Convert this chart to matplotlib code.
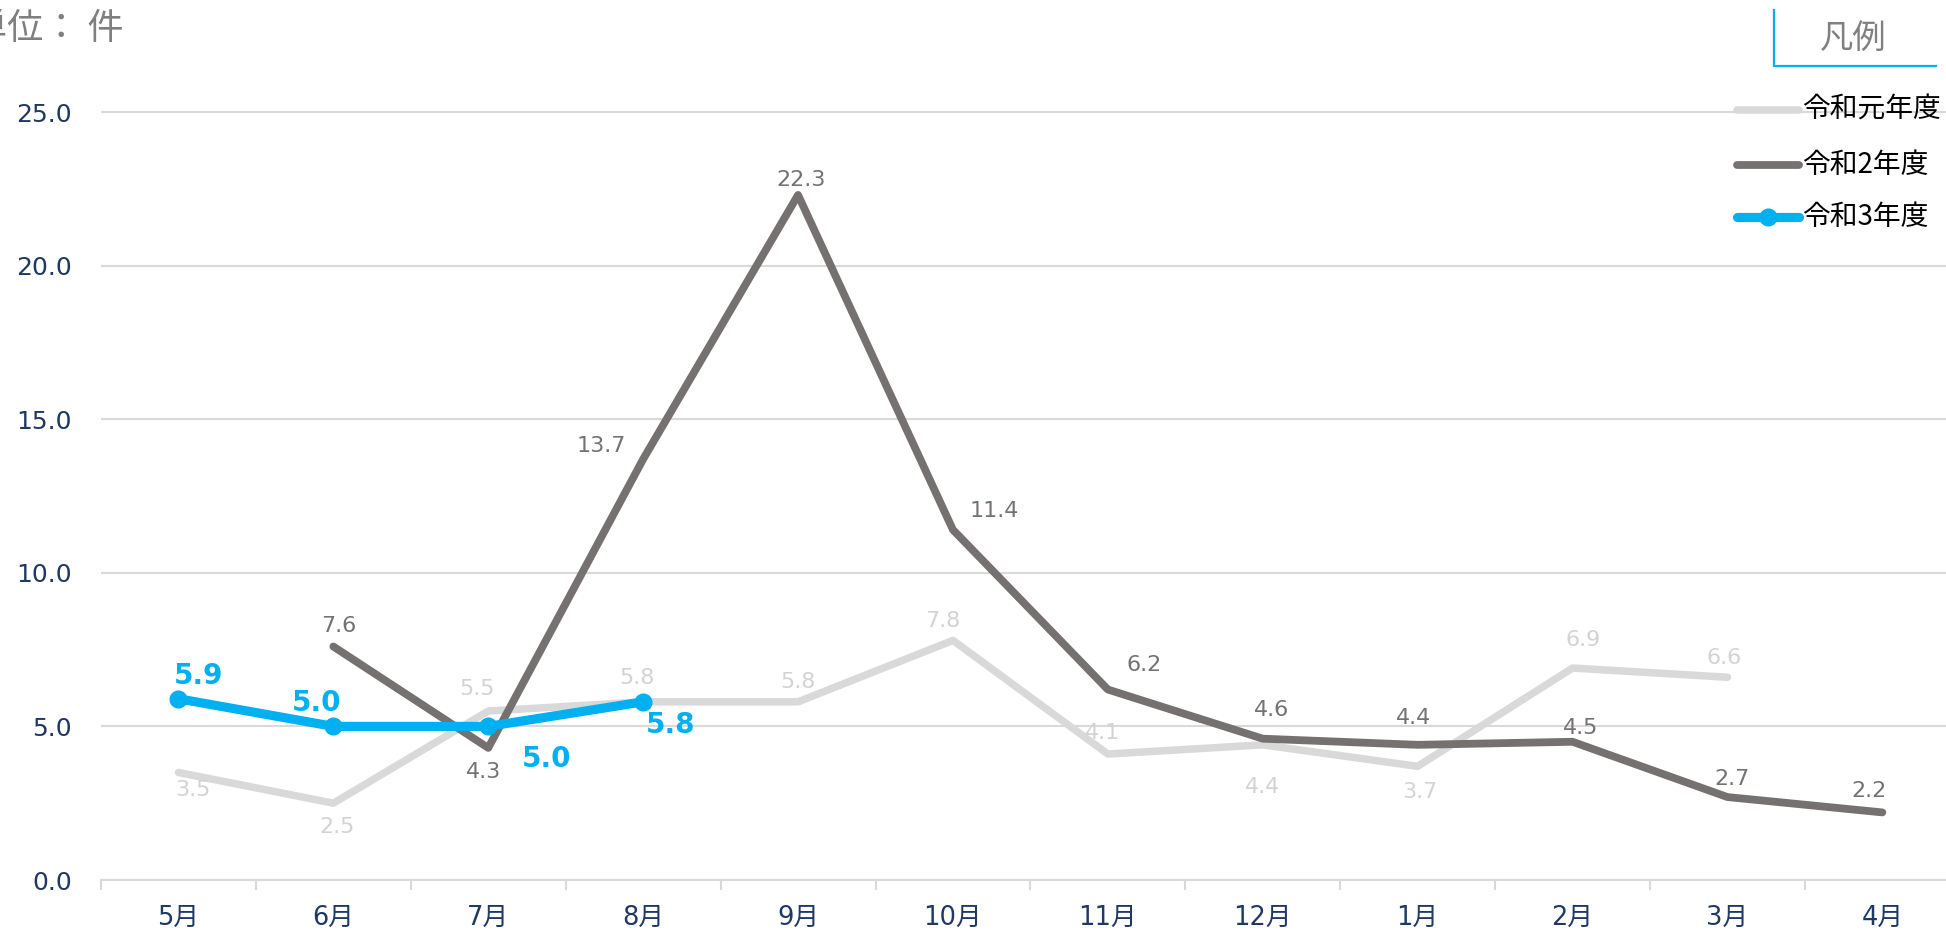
import matplotlib
matplotlib.use("Agg")
import matplotlib.pyplot as plt
from matplotlib.lines import Line2D
import numpy as np

# ---------------- data ----------------
months = ["5月", "6月", "7月", "8月", "9月", "10月", "11月", "12月", "1月", "2月", "3月", "4月"]
r1_values = [3.5, 2.5, 5.5, 5.8, 5.8, 7.8, 4.1, 4.4, 3.7, 6.9, 6.6, None]
r2_values = [None, 7.6, 4.3, 13.7, 22.3, 11.4, 6.2, 4.6, 4.4, 4.5, 2.7, 2.2]
r3_values = [5.9, 5.0, 5.0, 5.8]
series_names = ["令和元年度", "令和2年度", "令和3年度"]
y_ticks = [0, 5, 10, 15, 20, 25]
unit_label = "単位： 件"
legend_title = "凡例"

# ---------------- styling / layout ----------------
C_LIGHT = "#d9d9d9"
C_LIGHT_TXT = "#d3d3d3"
C_DARK = "#767171"
C_BLUE = "#00b0f0"
C_NAVY = "#1f3864"
C_GRID = "#d9d9d9"
CJK = "Noto Sans CJK JP"
NUMF = ["DejaVu Sans", CJK]
LW_LIGHT, LW_DARK, LW_BLUE = 5.4, 5.6, 6.6
MS_BLUE = 12

# label offsets in pixels (dx, dy)
r1_off = [(14, -18), (4, -24), (-11, 22), (-6, 24), (0, 20), (-10, 19), (-5, 21),
          (0, -42), (2, -26), (11, 28), (-3, 19), None]
r2_off = [None, (5, 21), (-5, -24), (-42, 13), (3, 15), (41, 19), (36, 25),
          (9, 29), (-4, 27), (8, 14), (5, 18), (-13, 21)]
r3_off = [(20, 23), (-17, 23), (58, -33), (27, -23)]

W, H = 1946, 936
fig = plt.figure(figsize=(W / 100, H / 100), dpi=100)
px_per_unit = 768 / 25.0
ytop = 25.4
ax = fig.add_axes([101 / W, 56 / H, (W - 101) / W, ytop * px_per_unit / H])

x = np.arange(len(months))

def to_arr(vals):
    return np.array([np.nan if v is None else v for v in vals], dtype=float)

y1 = to_arr(r1_values)
y2 = to_arr(r2_values)
y3 = to_arr(r3_values)

ax.plot(x, y1, color=C_LIGHT, lw=LW_LIGHT, solid_capstyle="round", solid_joinstyle="round", zorder=3)
ax.plot(x, y2, color=C_DARK, lw=LW_DARK, solid_capstyle="round", solid_joinstyle="round", zorder=4)
ax.plot(x[:len(y3)], y3, color=C_BLUE, lw=LW_BLUE, marker="o", ms=MS_BLUE, solid_capstyle="round",
        solid_joinstyle="round", zorder=5)

def label(xs, ys, offs, color, size, weight="normal"):
    for xi, yi, off in zip(xs, ys, offs):
        if off is None or np.isnan(yi):
            continue
        ax.annotate(f"{yi:.1f}", (xi, yi), xytext=off, textcoords="offset pixels",
                    ha="center", va="center", color=color, fontsize=size,
                    fontweight=weight, family="DejaVu Sans", zorder=6)

label(x, y1, r1_off, C_LIGHT_TXT, 16)
label(x, y2, r2_off, C_DARK, 16)
label(x[:len(y3)], y3, r3_off, C_BLUE, 20, "bold")

# axes styling
for s in ("top", "right", "left"):
    ax.spines[s].set_visible(False)
ax.spines["bottom"].set_color(C_GRID)
ax.spines["bottom"].set_linewidth(1.5)
ax.set_yticks(y_ticks)
ax.set_yticklabels([f"{v:.1f}" for v in y_ticks], color=C_NAVY, fontsize=18, family="DejaVu Sans")
ax.tick_params(axis="y", length=0, pad=21)
ax.yaxis.grid(True, color=C_GRID, lw=1.5)
ax.set_axisbelow(True)

ax.set_xticks(np.arange(-0.5, len(months), 1.0))
ax.set_xticklabels([])
ax.tick_params(axis="x", which="major", length=7.2, width=1.5, color=C_GRID, direction="out")
ax.set_xticks(x, minor=True)
ax.set_xticklabels(months, minor=True, color=C_NAVY, fontsize=18.5, family=NUMF)
ax.tick_params(axis="x", which="minor", length=0, pad=18)

# limits set after ticks so they are not expanded
ax.set_xlim(-0.5, -0.5 + (W - 101) / 154.9)
ax.set_ylim(0, ytop)

# unit label
fig.text(124 / W, 1 - 29 / H, unit_label, ha="right", va="center", color="#7f7f7f",
         fontsize=26, family=CJK)

# legend box
fig.text(1853 / W, 1 - 38 / H, legend_title, ha="center", va="center", color="#808080",
         fontsize=24, family=CJK)
fig.add_artist(Line2D([1774 / W, 1774 / W, 1936 / W], [1 - 10 / H, 1 - 66 / H, 1 - 66 / H],
                      color=C_BLUE, lw=1.6, transform=fig.transFigure))

leg_styles = [dict(color=C_LIGHT, lw=LW_LIGHT), dict(color=C_DARK, lw=LW_DARK),
              dict(color=C_BLUE, lw=LW_BLUE)]
leg_y = [110, 165, 217]
for name, st, yy, i in zip(series_names, leg_styles, leg_y, range(3)):
    fy = 1 - yy / H
    fig.add_artist(Line2D([1737 / W, 1799 / W], [fy, fy], solid_capstyle="round",
                          transform=fig.transFigure, **st))
    if i == 2:
        fig.add_artist(Line2D([1768 / W], [fy], marker="o", ms=MS_BLUE, color=C_BLUE,
                              transform=fig.transFigure))
    fig.text(1802 / W, fy, name, ha="left", va="center", color="black", fontsize=20,
             family=CJK)

fig.savefig("out.png", dpi=100)
